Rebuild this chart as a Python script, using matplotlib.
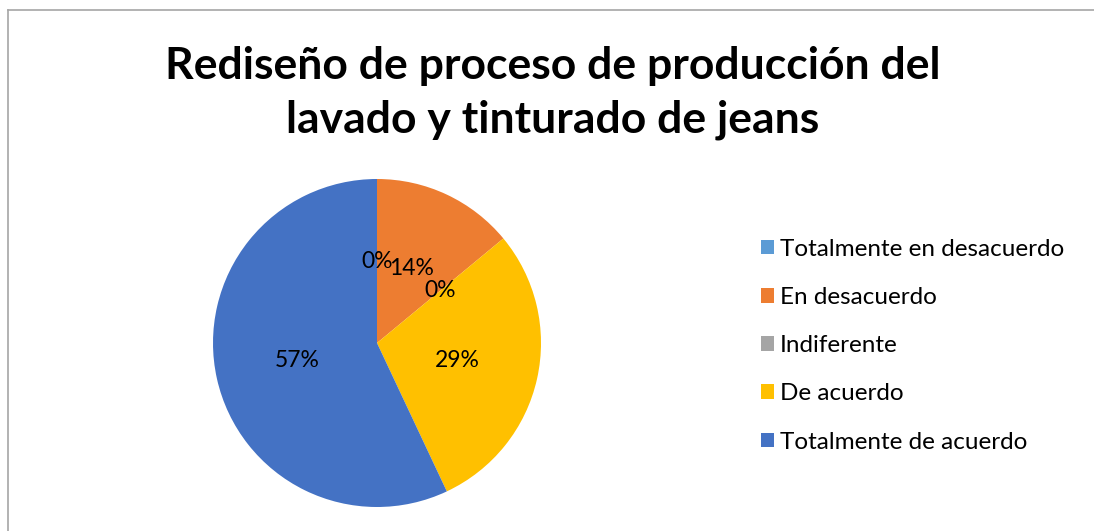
import matplotlib
matplotlib.use('Agg')
import matplotlib.pyplot as plt
from matplotlib.patches import Patch
from matplotlib.lines import Line2D

# survey answers, in percent
categories = ['Totalmente en desacuerdo', 'En desacuerdo', 'Indiferente',
              'De acuerdo', 'Totalmente de acuerdo']
shares = [0, 14, 0, 29, 57]
colors = ['#5B9BD5', '#ED7D31', '#A5A5A5', '#FFC000', '#4472C4']
title = 'Rediseño de proceso de producción del\nlavado y tinturado de jeans'

W, H = 1094, 531
plt.rcParams['font.family'] = ['Lato', 'DejaVu Sans']

fig = plt.figure(figsize=(W / 100, H / 100), dpi=100)

# chart border (runs off the right and bottom edge)
fig.add_artist(Line2D([8 / W, 8 / W], [0, 1 - 10 / H], color='#A6A6A6', lw=1.2))
fig.add_artist(Line2D([8 / W, 1], [1 - 10 / H, 1 - 10 / H], color='#A6A6A6', lw=1.2))

fig.text(553 / W, 1 - 93 / H, title, ha='center', va='center',
         fontsize=32, fontweight='bold', linespacing=1.42)

ax = fig.add_axes([213 / W, 1 - 507 / H, 328 / W, 328 / H])
wedges, texts, autotexts = ax.pie(shares, colors=colors, startangle=90, counterclock=False,
                                  autopct='%1.0f%%', pctdistance=0.5,
                                  textprops={'fontsize': 16.5, 'color': 'black'})
ax.set_xlim(-1, 1)
ax.set_ylim(-1, 1)
ax.set_aspect('equal')

handles = [Patch(facecolor=c, edgecolor='none') for c in colors]
fig.legend(handles, categories, loc='upper left', bbox_to_anchor=(751 / W, 1 - 229 / H),
           frameon=False, fontsize=17.5, handlelength=0.55, handleheight=0.55,
           handletextpad=0.25, labelspacing=1.12, borderaxespad=0)

fig.savefig('out.png', dpi=100)
